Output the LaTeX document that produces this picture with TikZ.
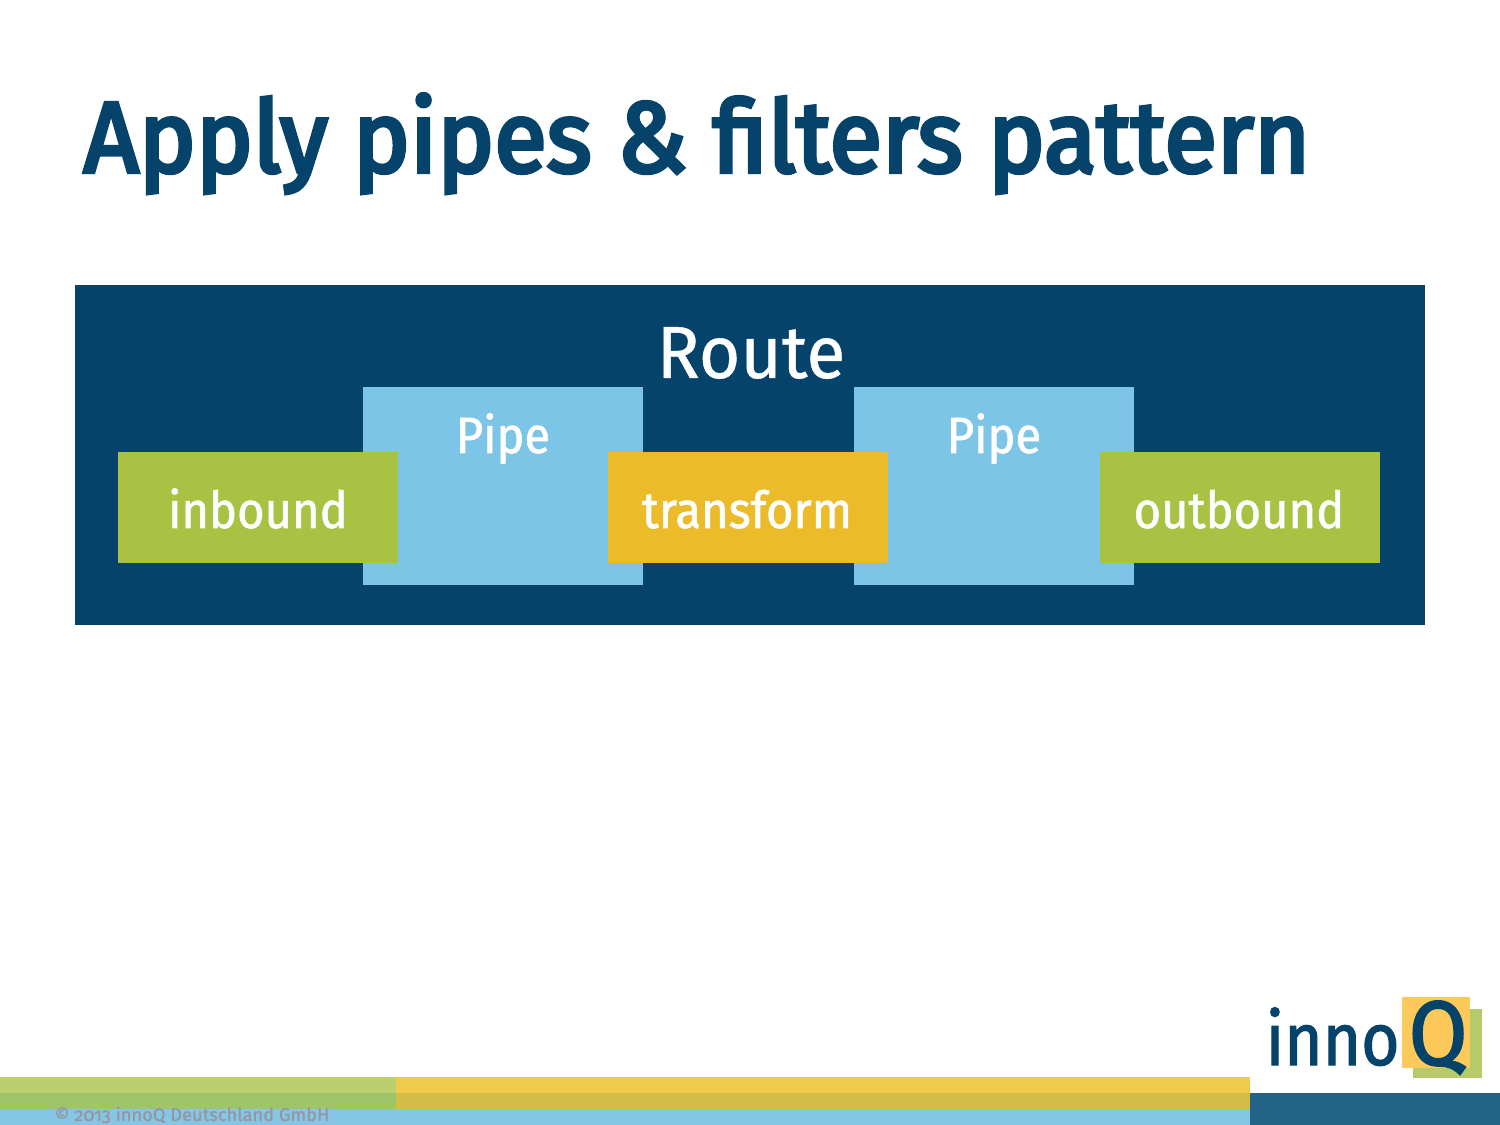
\documentclass[tikz,border=0pt]{standalone}
\usepackage{fontspec}
\setmainfont{Fira Sans}
\newfontfamily\titlefont[FakeStretch=0.96,FakeBold=4]{Fira Sans}
\newfontfamily\routefont[FakeStretch=0.965,FakeBold=0.6]{Fira Sans}
\newfontfamily\labelfont[FakeStretch=0.925,FakeBold=1.2]{Fira Sans}
\newfontfamily\footfont[Numbers=OldStyle,FakeBold=0.9]{Fira Sans}
\newfontfamily\logofont[FakeStretch=0.89,FakeBold=1.6]{Fira Sans}
\newfontfamily\logoqfont[FakeStretch=0.93,FakeBold=2]{Fira Sans}
\usepackage{xcolor}
\usetikzlibrary{positioning}
\definecolor{navy}{HTML}{05436A}
\definecolor{sky}{HTML}{7DC5E6}
\definecolor{leaf}{HTML}{A9C244}
\definecolor{amber}{HTML}{ECBB2A}
\definecolor{stripgreen}{HTML}{BCCF6E}
\definecolor{stripgreendark}{HTML}{A0C46A}
\definecolor{stripyellow}{HTML}{F0CA4A}
\definecolor{stripyellowdark}{HTML}{D3BC48}
\definecolor{stripblue}{HTML}{85C6E6}
\definecolor{stripnavy}{HTML}{236488}
\definecolor{logoyellow}{HTML}{FCC95A}
\definecolor{logogreen}{HTML}{B5CB6A}
\definecolor{footgray}{HTML}{96969F}

\begin{document}
\begin{tikzpicture}[
  box/.style={rectangle, inner sep=0pt, outer sep=0pt},
  route/.style={box, fill=navy, minimum width=13.5cm, minimum height=3.4cm},
  pipe/.style={box, fill=sky, minimum width=2.8cm, minimum height=1.98cm},
  filter/.style={box, fill=leaf, minimum width=2.8cm, minimum height=1.11cm},
  step label/.style={text=white, inner sep=0pt, anchor=base, font=\labelfont\fontsize{14.5}{18}\selectfont},
  strip/.style={box, anchor=north west, minimum height=0.16cm},
]
  \useasboundingbox (0,0) rectangle (15,11.25);

  \node[anchor=base west, inner sep=0pt, text=navy, font=\titlefont\fontsize{28.5}{34}\selectfont] (title) at (0.83,9.53) {Apply pipes \& filters pattern};

  \node[route] (routebox) at (7.5,6.70) {};
  \node[step label, font=\routefont\fontsize{21}{26}\selectfont] (routelabel) at (7.51,7.47) {Route};

  \node[pipe] (pipeA) at (5.03,6.39) {};
  \node[pipe, right=2.11cm of pipeA] (pipeB) {};
  \node[step label] (pipeAlabel) at (5.03,6.72) {Pipe};
  \node[step label] (pipeBlabel) at (9.94,6.72) {Pipe};

  \node[filter] (inbound) at (2.58,6.175) {};
  \node[filter, fill=amber, right=2.10cm of inbound] (transform) {};
  \node[filter, right=2.12cm of transform] (outbound) {};
  \node[step label] (inboundlabel) at (2.58,5.97) {inbound};
  \node[step label] (transformlabel) at (7.47,5.97) {transform};
  \node[step label] (outboundlabel) at (12.39,5.97) {outbound};

  \node[strip, fill=stripgreen, minimum width=3.96cm] (stripA) at (0,0.48) {};
  \node[strip, fill=stripgreendark, minimum width=3.96cm, below=0cm of stripA.south west, anchor=north west] (stripB) {};
  \node[strip, fill=stripyellow, minimum width=8.54cm, right=0cm of stripA.north east, anchor=north west] (stripC) {};
  \node[strip, fill=stripyellowdark, minimum width=8.54cm, below=0cm of stripC.south west, anchor=north west] (stripD) {};
  \node[strip, fill=stripblue, minimum width=12.5cm, below=0cm of stripB.south west, anchor=north west] (stripE) {};
  \node[strip, fill=stripnavy, minimum width=2.5cm, minimum height=0.32cm, right=0cm of stripD.north east, anchor=north west] (stripF) {};
  \node[anchor=base west, inner sep=0pt, text=footgray, font=\footfont\fontsize{5.2}{7}\selectfont] (copyright) at (0.54,0.04) {© 2013 innoQ Deutschland GmbH};

  \node[box, fill=logogreen, minimum width=0.69cm, minimum height=0.69cm, anchor=north west] (logogreenbox) at (14.13,1.16) {};
  \node[box, fill=logoyellow, minimum width=0.68cm, minimum height=0.71cm, anchor=north west] (logoyellowbox) at (14.02,1.28) {};
  \node[anchor=base west, inner sep=0pt, text=navy, font=\logofont\fontsize{21}{26}\selectfont] (logoinno) at (12.65,0.60) {inno};
  \node[anchor=base west, inner sep=0pt, text=navy, font=\logoqfont\fontsize{26}{30}\selectfont] (logoq) at (14.08,0.60) {Q};
\end{tikzpicture}
\end{document}
